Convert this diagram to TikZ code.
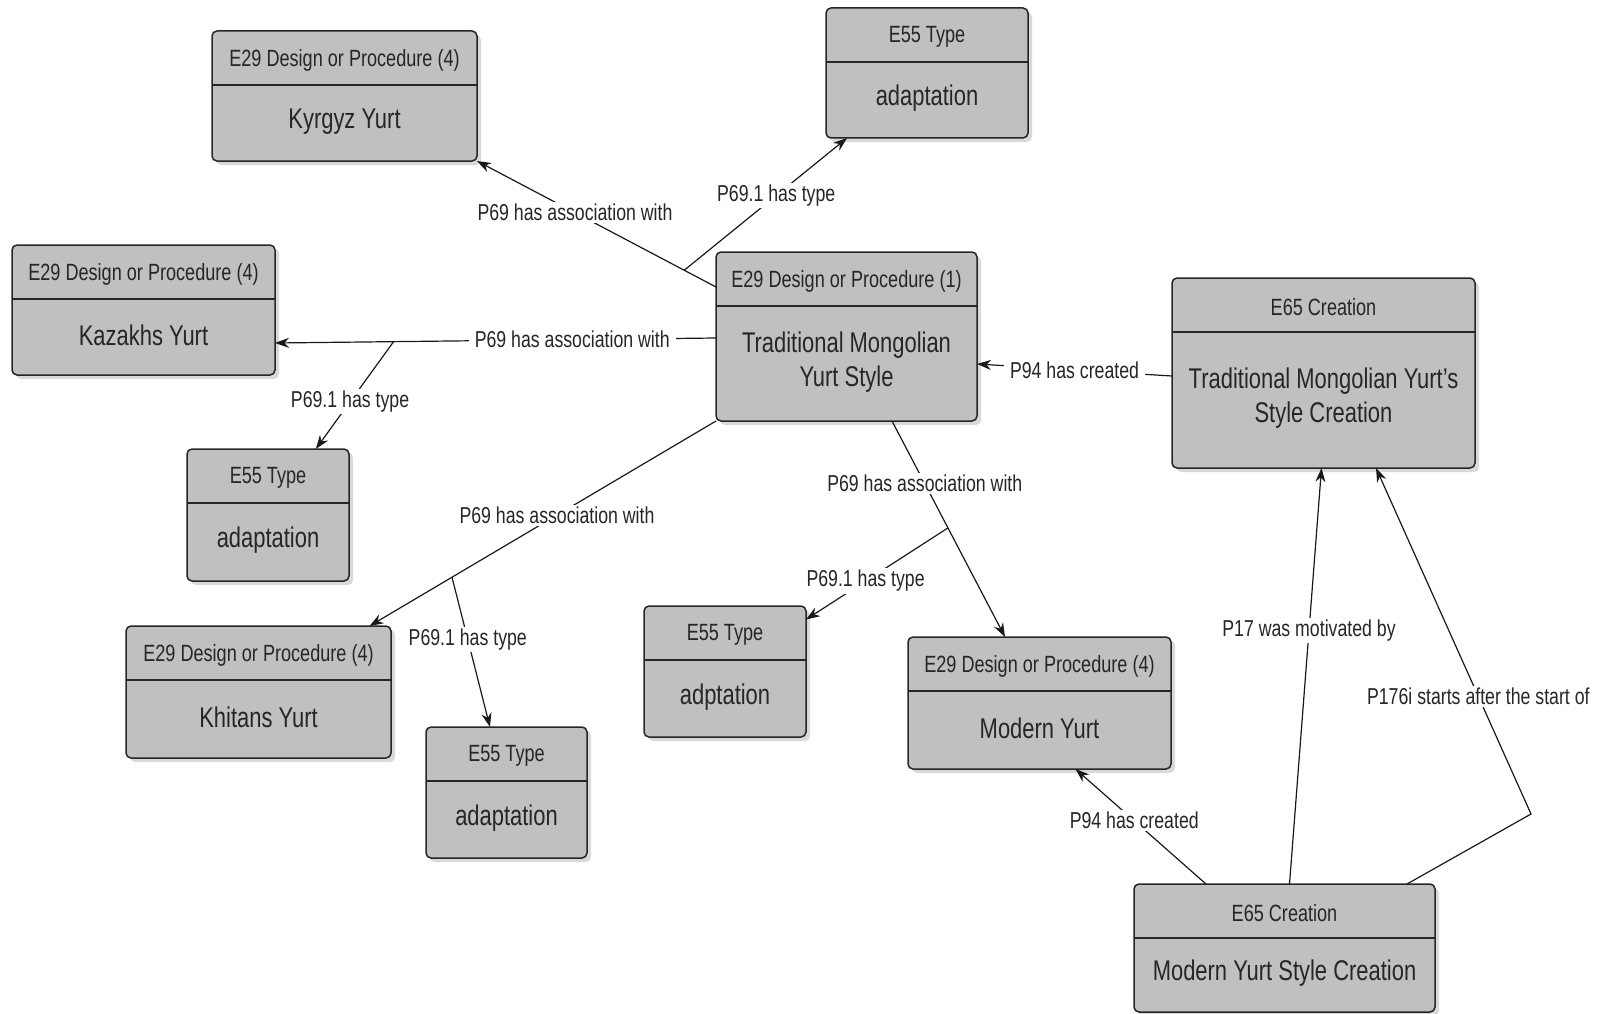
\documentclass[tikz,border=0pt]{standalone}
\usepackage{fontspec}
\setmainfont{Liberation Sans}[FakeStretch=0.77]
\usetikzlibrary{arrows.meta,shadows,calc}
\definecolor{boxgray}{RGB}{192,192,192}
\tikzset{
  entbox/.style={draw=black!85, fill=boxgray, line width=1.5pt, rounded corners=5pt, outer sep=0pt,
    drop shadow={shadow xshift=4pt, shadow yshift=-4pt, opacity=0.3}},
  entrule/.style={draw=black!85, line width=1.5pt},
  enthead/.style={font=\fontsize{23.5}{27}\selectfont, text=black!85},
  entbody/.style={font=\fontsize{28.5}{34}\selectfont, align=center, text=black!85},
  rel/.style={draw=black!90, line width=1.2pt, -{Stealth[length=14pt,width=10pt]}},
  elabel/.style={fill=white, font=\fontsize{23}{26}\selectfont, inner xsep=6pt, inner ysep=2pt, text=black!85},
}
% name, left, top, width, height, class, label
\newcommand{\entity}[7]{
  \node[entbox, minimum width=#4pt, minimum height=#5pt, anchor=north west] (#1) at (#2,-#3) {};
  \draw[entrule] ([yshift=-54pt]#1.north west) -- ([yshift=-54pt]#1.north east);
  \node[enthead] at ([yshift=-29pt]#1.north) {#6};
  \node[entbody] at ($(#1.south)!0.5!([yshift=-54pt]#1.north) + (0,1.5)$) {#7};
}
\begin{document}
\begin{tikzpicture}[x=1pt,y=1pt]
  \useasboundingbox (0,0) rectangle (1608,-1014);
  \entity{kyrgyz}{212}{31}{265}{130}{E29 Design or Procedure (4)}{Kyrgyz Yurt}
  \entity{typeA}{826}{8}{202}{130}{E55 Type}{adaptation}
  \entity{kazakhs}{12}{245}{263}{130}{E29 Design or Procedure (4)}{Kazakhs Yurt}
  \entity{trad}{716}{252}{261}{169}{E29 Design or Procedure (1)}{Traditional Mongolian\\Yurt Style}
  \entity{tmysc}{1172}{278}{303}{190}{E65 Creation}{Traditional Mongolian Yurt's\\Style Creation}
  \entity{typeB}{187}{449}{162}{132}{E55 Type}{adaptation}
  \entity{khitans}{126}{626}{265}{132}{E29 Design or Procedure (4)}{Khitans Yurt}
  \entity{typeC}{426}{727}{161}{131}{E55 Type}{adaptation}
  \entity{typeD}{644}{606}{162}{131}{E55 Type}{adptation}
  \entity{modern}{908}{637}{263}{132}{E29 Design or Procedure (4)}{Modern Yurt}
  \entity{mysc}{1134}{884}{301}{128}{E65 Creation}{Modern Yurt Style Creation}
  \coordinate (bend) at (1531,-814);

  \draw[rel] ([yshift=49.5pt]trad.west) -- coordinate[pos=0.133] (kyr1)
    node[elabel, pos=0.59] {P69 has association with} (kyrgyz.south east);
  \draw[rel] (kyr1) -- node[elabel, pos=0.565] {P69.1 has type} (typeA);
  \draw[rel] ([yshift=-1.5pt]trad.west) -- coordinate[pos=0.731] (kaz1)
    node[elabel, pos=0.326] {P69 has association with} ([yshift=-33pt]kazakhs.east);
  \draw[rel] (kaz1) -- node[elabel, pos=0.56] {P69.1 has type} (typeB);
  \draw[rel] (trad.south west) -- coordinate[pos=0.762] (khi1)
    node[elabel, pos=0.459] {P69 has association with} (khitans);
  \draw[rel] (khi1) -- node[elabel, pos=0.416] {P69.1 has type} (typeC);
  \draw[rel] ([xshift=45.5pt]trad.south) -- coordinate[pos=0.495] (mod1)
    node[elabel, pos=0.29] {P69 has association with} (modern);
  \draw[rel] (mod1) -- node[elabel, pos=0.58] {P69.1 has type} (typeD);
  \draw[rel] ([yshift=-3pt]tmysc.west) -- node[elabel, pos=0.5] {P94 has created} ([yshift=-27.5pt]trad.east);
  \draw[rel] ([xshift=-78.5pt]mysc.north) -- node[elabel, pos=0.55] {P94 has created} ([xshift=36pt]modern.south);
  \draw[rel] ([xshift=5pt]mysc.north) -- node[elabel, pos=0.61] {P17 was motivated by} ([xshift=-2pt]tmysc.south);
  \draw[rel] ([xshift=-28pt]mysc.north east) -- (bend)
    -- node[elabel, pos=0.34] {P176i starts after the start of} ([xshift=52.5pt]tmysc.south);
\end{tikzpicture}
\end{document}
